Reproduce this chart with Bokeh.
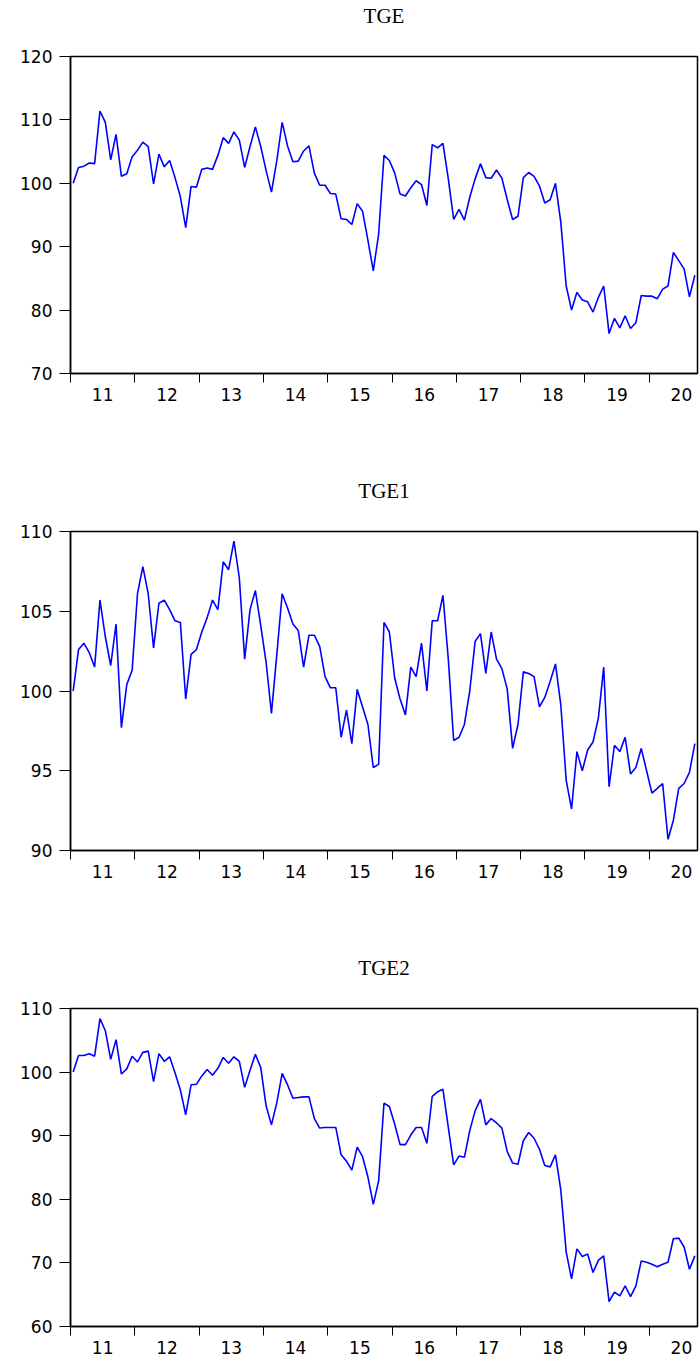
from bokeh.plotting import figure
from bokeh.models import Range1d, FixedTicker, Title
from bokeh.layouts import column
from bokeh.embed import file_html
from bokeh.resources import INLINE

START_YEAR = 2011
END_X = 2020.75
YEAR_LABELS = ["11", "12", "13", "14", "15", "16", "17", "18", "19", "20"]

TGE = [
    100.0, 102.5, 102.7, 103.2, 103.1, 111.4, 109.6, 103.7, 107.7, 101.1,
    101.5, 104.2, 105.2, 106.5, 105.8, 99.9, 104.6, 102.6, 103.6, 100.9,
    97.9, 93.0, 99.5, 99.4, 102.2, 102.4, 102.2, 104.4, 107.2, 106.3,
    108.1, 106.8, 102.5, 105.8, 108.9, 105.8, 102.0, 98.6, 103.6, 109.6,
    105.9, 103.4, 103.5, 105.1, 105.9, 101.6, 99.7, 99.7, 98.4, 98.3,
    94.4, 94.3, 93.5, 96.8, 95.6, 91.0, 86.2, 92.0, 104.4, 103.6,
    101.6, 98.3, 98.0, 99.3, 100.4, 99.8, 96.5, 106.1, 105.6, 106.3,
    100.7, 94.3, 95.9, 94.2, 97.8, 100.7, 103.1, 100.9, 100.8, 102.1,
    100.8, 97.4, 94.3, 94.8, 100.9, 101.7, 101.1, 99.6, 96.9, 97.4,
    100.0, 93.8, 83.8, 80.0, 82.8, 81.6, 81.3, 79.7, 82.0, 83.8,
    76.3, 78.7, 77.2, 79.1, 77.1, 78.0, 82.3, 82.2, 82.2, 81.8,
    83.3, 83.8, 89.1, 87.8, 86.5, 82.1, 85.5,
]

TGE1 = [
    100.0, 102.6, 103.0, 102.4, 101.5, 105.7, 103.4, 101.6, 104.2, 97.7,
    100.4, 101.3, 106.1, 107.8, 106.1, 102.7, 105.5, 105.7, 105.1, 104.4,
    104.3, 99.5, 102.3, 102.6, 103.7, 104.6, 105.7, 105.1, 108.1, 107.6,
    109.4, 107.1, 102.0, 105.1, 106.3, 104.1, 101.8, 98.6, 102.3, 106.1,
    105.2, 104.2, 103.8, 101.5, 103.5, 103.5, 102.8, 100.9, 100.2, 100.2,
    97.1, 98.8, 96.7, 100.1, 99.0, 97.9, 95.2, 95.4, 104.3, 103.7,
    100.8, 99.5, 98.5, 101.5, 100.9, 103.0, 100.0, 104.4, 104.4, 106.0,
    102.0, 96.9, 97.1, 97.9, 100.0, 103.1, 103.6, 101.1, 103.7, 102.0,
    101.4, 100.1, 96.4, 97.9, 101.2, 101.1, 100.9, 99.0, 99.6, 100.6,
    101.7, 99.1, 94.4, 92.6, 96.2, 95.0, 96.3, 96.8, 98.3, 101.5,
    94.0, 96.6, 96.2, 97.1, 94.8, 95.2, 96.4, 95.0, 93.6, 93.9,
    94.2, 90.7, 91.9, 93.9, 94.2, 94.9, 96.7,
]

TGE2 = [
    100.0, 102.6, 102.6, 102.9, 102.5, 108.4, 106.5, 102.0, 105.1, 99.7,
    100.5, 102.5, 101.6, 103.1, 103.3, 98.5, 102.9, 101.7, 102.4, 99.9,
    97.2, 93.3, 98.0, 98.1, 99.4, 100.4, 99.5, 100.6, 102.3, 101.4,
    102.4, 101.7, 97.6, 100.3, 102.8, 100.7, 94.7, 91.7, 95.2, 99.8,
    98.0, 95.9, 96.0, 96.1, 96.1, 92.7, 91.2, 91.3, 91.3, 91.3,
    87.0, 86.0, 84.6, 88.2, 86.7, 83.5, 79.2, 82.9, 95.1, 94.6,
    91.8, 88.6, 88.6, 90.1, 91.3, 91.3, 88.8, 96.2, 96.9, 97.3,
    91.3, 85.4, 86.8, 86.6, 90.8, 93.9, 95.7, 91.7, 92.7, 92.0,
    91.2, 87.5, 85.7, 85.5, 89.2, 90.5, 89.6, 87.9, 85.3, 85.1,
    87.0, 81.4, 71.7, 67.5, 72.2, 71.0, 71.4, 68.5, 70.4, 71.1,
    63.9, 65.4, 64.8, 66.4, 64.7, 66.4, 70.3, 70.1, 69.8, 69.4,
    69.8, 70.1, 73.8, 73.9, 72.5, 69.0, 71.1,
]

TGE_TICKS = [70, 80, 90, 100, 110, 120]
TGE1_TICKS = [90, 95, 100, 105, 110]
TGE2_TICKS = [60, 70, 80, 90, 100, 110]

LABEL_FONT = "DejaVu Sans"
TITLE_FONT = "Liberation Serif"
FIG_W = 699
BORDER_L = 70
BORDER_R = 2


def make_panel(name, values, yticks, height, top, bottom):
    x = [START_YEAR + (i + 0.5) / 12.0 for i in range(len(values))]
    p = figure(
        width=FIG_W, height=height,
        x_range=Range1d(START_YEAR, END_X),
        y_range=Range1d(yticks[0], yticks[-1]),
        output_backend="svg", toolbar_location=None,
        min_border_left=BORDER_L, min_border_right=BORDER_R,
        min_border_top=top, min_border_bottom=bottom,
        background_fill_color="white", border_fill_color="white",
        outline_line_color="black", outline_line_width=1.5,
    )
    # spacer between the frame and the title (closest to the frame)
    p.add_layout(Title(text=" ", text_font_size="24px", standoff=0), "above")
    p.add_layout(Title(text=name, align="center", text_font=TITLE_FONT,
                       text_font_size="21px", text_font_style="normal",
                       text_color="black", standoff=0), "above")
    p.grid.visible = False

    p.line(x, values, line_color="#0000ff", line_width=1.6)

    mids = [START_YEAR + k + 0.5 for k in range(len(YEAR_LABELS))]
    bounds = [START_YEAR + k for k in range(len(YEAR_LABELS))]
    xa = p.xaxis[0]
    xa.ticker = FixedTicker(ticks=mids, minor_ticks=bounds)
    xa.major_label_overrides = {m: lab for m, lab in zip(mids, YEAR_LABELS)}
    xa.major_tick_out = 0
    xa.major_tick_in = 0
    xa.minor_tick_out = 9
    xa.minor_tick_in = 0
    xa.minor_tick_line_color = "black"
    xa.axis_line_color = "black"
    xa.axis_line_width = 1.5
    xa.major_label_standoff = 5
    xa.major_label_text_font = LABEL_FONT
    xa.major_label_text_font_size = "17px"
    xa.major_label_text_color = "black"

    ya = p.yaxis[0]
    ya.ticker = FixedTicker(ticks=yticks)
    ya.major_tick_out = 11
    ya.major_tick_in = 0
    ya.minor_tick_out = 0
    ya.minor_tick_in = 0
    ya.major_tick_line_color = "black"
    ya.axis_line_color = "black"
    ya.axis_line_width = 1.5
    ya.major_label_standoff = 7
    ya.major_label_text_font = LABEL_FONT
    ya.major_label_text_font_size = "17px"
    ya.major_label_text_color = "black"
    return p


p1 = make_panel("TGE", TGE, TGE_TICKS, 440, 56, 67)
p2 = make_panel("TGE1", TGE1, TGE1_TICKS, 475, 91, 65)
p3 = make_panel("TGE2", TGE2, TGE2_TICKS, 449, 93, 38)

layout = column(p1, p2, p3, spacing=0)
open("out.html", "w").write(file_html(layout, INLINE))
